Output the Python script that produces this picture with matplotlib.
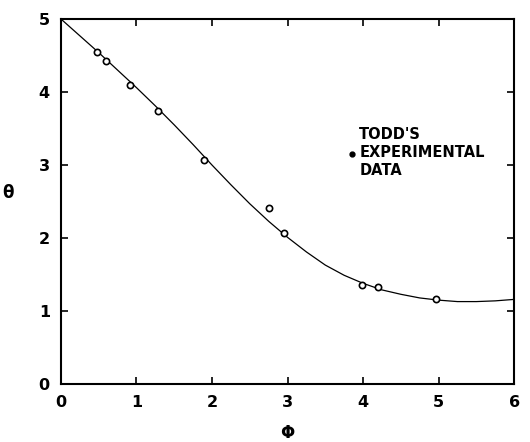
import matplotlib.pyplot as plt

# fitted curve
phi_curve = [0.0, 0.25, 0.5, 0.75, 1.0, 1.25, 1.5, 1.75, 2.0, 2.25, 2.5, 2.75,
             3.0, 3.25, 3.5, 3.75, 4.0, 4.25, 4.5, 4.75, 5.0, 5.25, 5.5, 5.75, 6.0]
theta_curve = [5.0, 4.77, 4.54, 4.30, 4.06, 3.81, 3.55, 3.28, 3.00, 2.73, 2.47, 2.23,
               2.01, 1.81, 1.63, 1.49, 1.38, 1.29, 1.23, 1.18, 1.15, 1.13, 1.13, 1.14, 1.16]

# Todd's experimental data
phi_data = [0.48, 0.59, 0.92, 1.28, 1.9, 2.75, 2.95, 3.98, 4.2, 4.97]
theta_data = [4.55, 4.42, 4.1, 3.74, 3.07, 2.41, 2.07, 1.36, 1.33, 1.16]

fig = plt.figure(figsize=(5.3, 4.42), dpi=100)
ax = fig.add_axes([0.115, 0.131, 0.855, 0.826])

ax.plot(phi_curve, theta_curve, color="black", lw=0.9)
ax.plot(phi_data, theta_data, "o", mfc="white", mec="black", ms=4.5, mew=1.2)

ax.set_xlim(0, 6)
ax.set_ylim(0, 5)
ax.set_xticks(range(7))
ax.set_yticks(range(6))
for s in ax.spines.values():
    s.set_linewidth(1.5)
ax.tick_params(direction="in", length=5, width=1.2, labelsize=11.5,
               top=True, right=True, pad=8)
for lab in ax.get_xticklabels() + ax.get_yticklabels():
    lab.set_fontweight("bold")

ax.set_xlabel("Φ", fontsize=12, fontweight="bold", labelpad=10)
ax.set_ylabel("θ", fontsize=12, fontweight="bold", rotation=0, labelpad=22)

ax.plot([3.85], [3.15], "o", color="black", ms=3.5)
ax.text(3.95, 3.17, "TODD'S\nEXPERIMENTAL\nDATA", fontsize=10.5, fontweight="bold",
        va="center", ha="left", linespacing=1.25)

fig.savefig("out.png", dpi=100)
